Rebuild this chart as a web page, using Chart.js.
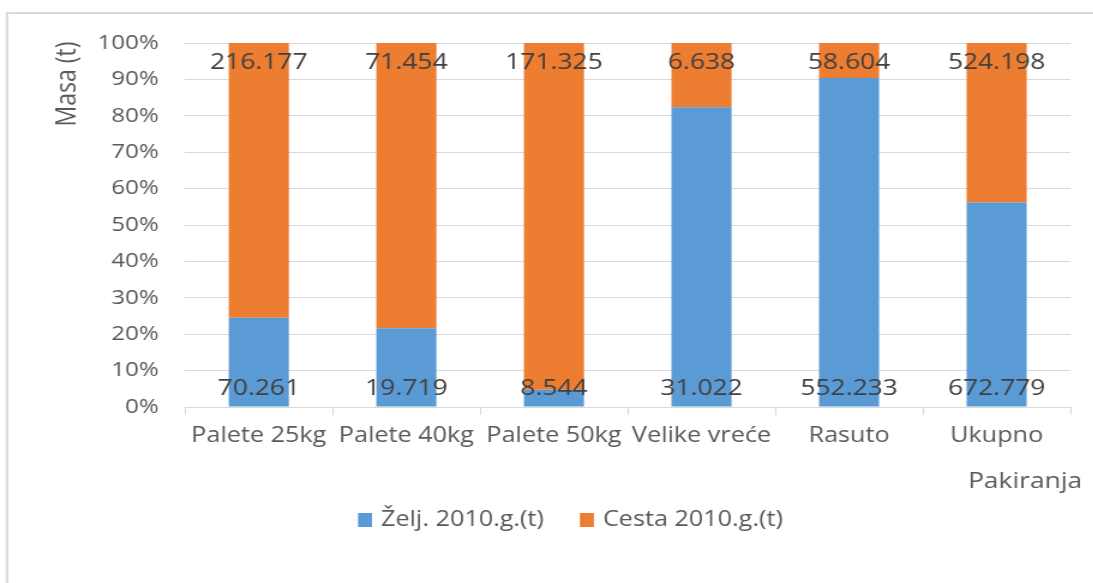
<!DOCTYPE html>
<html>
<head>
<meta charset="utf-8">
<script src="https://cdn.jsdelivr.net/npm/chart.js@4.4.1/dist/chart.umd.min.js"></script>
<style>
  body { margin: 0; background: #fff; overflow: hidden; }
  /* the reference text is horizontally stretched, so the chart is drawn narrower and widened */
  #wrap { width: 911px; height: 583px; transform: scaleX(1.2); transform-origin: 0 0; }
</style>
</head>
<body>
<div id="wrap"><canvas id="grafico"></canvas></div>
<script>
const kategorije = ["Palete 25kg", "Palete 40kg", "Palete 50kg", "Velike vreće", "Rasuto", "Ukupno"];
const zeljeznica = [70.261, 19.719, 8.544, 31.022, 552.233, 672.779];  // Želj. 2010.g.(t)
const cesta = [216.177, 71.454, 171.325, 6.638, 58.604, 524.198];       // Cesta 2010.g.(t)
const nazivi = ["Želj. 2010.g.(t)", "Cesta 2010.g.(t)"];
const boje = ["#5B9BD5", "#ED7D31"];

// 100% stacked -> udio svake serije
const ukupno = zeljeznica.map((v, i) => v + cesta[i]);
const zeljPosto = zeljeznica.map((v, i) => v / ukupno[i] * 100);
const cestaPosto = cesta.map((v, i) => v / ukupno[i] * 100);

const FONT = "'Open Sans', sans-serif";
Chart.defaults.font.family = FONT;
Chart.defaults.color = "#595959";

const SX = 1.2; // horizontalno rastezanje

const ukrasi = {
  id: "ukrasi",
  beforeDraw(chart) {
    const ctx = chart.ctx;
    ctx.save();
    ctx.fillStyle = "#fff";
    ctx.fillRect(0, 0, chart.width, chart.height);
    ctx.strokeStyle = "#d9d9d9";
    ctx.lineWidth = 2;
    ctx.strokeRect(7 / SX, 13, chart.width + 20, chart.height + 20);
    ctx.restore();
  },
  afterDatasetsDraw(chart) {
    const ctx = chart.ctx;
    const y = chart.scales.y;
    ctx.save();
    ctx.font = "22px " + FONT;
    ctx.fillStyle = "#404040";
    ctx.textAlign = "center";
    ctx.textBaseline = "middle";
    chart.getDatasetMeta(0).data.forEach((bar, i) => {
      ctx.fillText(zeljeznica[i].toFixed(3), bar.x, y.bottom - 18);
    });
    chart.getDatasetMeta(1).data.forEach((bar, i) => {
      ctx.fillText(cesta[i].toFixed(3), bar.x, bar.y + 20);
    });
    ctx.restore();
  },
  afterDraw(chart) {
    const ctx = chart.ctx;
    ctx.save();
    ctx.fillStyle = "#595959";
    ctx.textBaseline = "middle";
    // naslov osi y
    ctx.save();
    ctx.translate(68 / SX, 84);
    ctx.rotate(-Math.PI / 2);
    ctx.textAlign = "center";
    ctx.font = "23px " + FONT;
    ctx.fillText("Masa (t)", 0, 0);
    ctx.restore();
    // naslov osi x
    ctx.textAlign = "center";
    ctx.font = "22px " + FONT;
    ctx.fillText("Pakiranja", 1025 / SX, 482);
    // legenda
    ctx.font = "21px " + FONT;
    ctx.textAlign = "left";
    let x = 358 / SX;
    chart.data.datasets.forEach(ds => {
      ctx.fillStyle = ds.backgroundColor;
      ctx.fillRect(x, 513, 14 / SX, 14);
      x += 23 / SX;
      ctx.fillStyle = "#595959";
      ctx.fillText(ds.label, x, 520);
      x += ctx.measureText(ds.label).width + 36 / SX;
    });
    ctx.restore();
  }
};

new Chart(document.getElementById("grafico"), {
  type: "bar",
  data: {
    labels: kategorije,
    datasets: [
      { label: nazivi[0], data: zeljPosto, backgroundColor: boje[0], categoryPercentage: 1, barPercentage: 0.407 },
      { label: nazivi[1], data: cestaPosto, backgroundColor: boje[1], categoryPercentage: 1, barPercentage: 0.407 }
    ]
  },
  options: {
    responsive: true,
    maintainAspectRatio: false,
    animation: false,
    layout: { padding: { top: 43, right: 19, left: 0, bottom: 0 } },
    plugins: { legend: { display: false }, tooltip: { enabled: false } },
    scales: {
      x: {
        stacked: true,
        afterFit: s => { s.height = 176; },
        grid: { offset: true, drawOnChartArea: false, drawTicks: true, tickLength: 8, color: "#d9d9d9" },
        border: { display: true, color: "#d9d9d9" },
        ticks: { font: { size: 21 }, padding: 8, maxRotation: 0, autoSkip: false }
      },
      y: {
        stacked: true,
        min: 0,
        max: 100,
        afterFit: s => { s.width = 185 / SX; },
        grid: { color: "#d9d9d9", drawTicks: false },
        border: { display: false },
        ticks: { stepSize: 10, font: { size: 20 }, padding: 22, callback: v => v + "%" }
      }
    }
  },
  plugins: [ukrasi]
});
</script>
</body>
</html>
